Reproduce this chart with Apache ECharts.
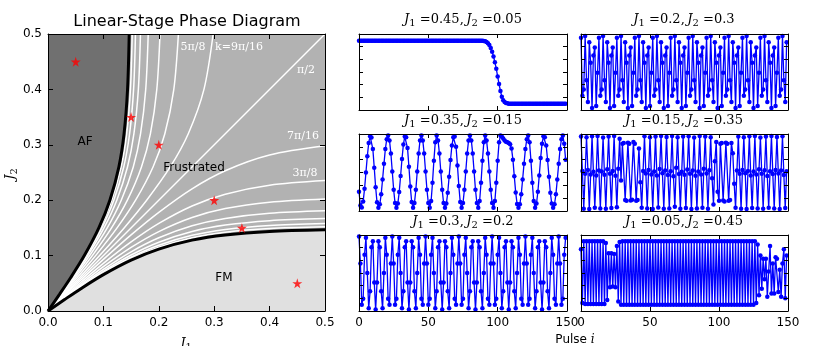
<!DOCTYPE html>
<html>
<head>
<meta charset="utf-8">
<script src="https://cdn.jsdelivr.net/npm/echarts@6/dist/echarts.min.js"></script>
<style>
html, body { margin: 0; padding: 0; background: #fff; }
#chart { width: 830px; height: 346px; }
</style>
</head>
<body>
<div id="chart"></div>
<script>
// ---- phase diagram data (J2 at these J1 values) ----
const phaseJ1 = [0, 0.03, 0.06, 0.1, 0.15, 0.2, 0.26, 0.32, 0.4, 0.5]
const fmBoundaryJ2 = [0, 0.0207, 0.0408, 0.0656, 0.0918, 0.1117, 0.1279, 0.1373, 0.1436, 0.1466]
// white k-contours below the diagonal: k = pi/16, pi/8, ..., 7pi/16
const contourPi16 = [0, 0.0212, 0.0418, 0.0672, 0.0943, 0.1151, 0.1321, 0.1420, 0.1488, 0.1520]
const contourPi8 = [0, 0.0217, 0.0428, 0.0690, 0.0971, 0.1188, 0.1367, 0.1473, 0.1545, 0.1579]
const contour3Pi16 = [0, 0.0224, 0.0443, 0.0716, 0.1011, 0.1242, 0.1435, 0.1551, 0.1631, 0.1669]
const contourPi4 = [0, 0.0235, 0.0464, 0.0752, 0.1069, 0.1322, 0.1539, 0.1671, 0.1764, 0.1809]
const contour5Pi16 = [0, 0.0248, 0.0491, 0.0800, 0.1147, 0.1433, 0.1687, 0.1849, 0.1964, 0.2022]
const contour3Pi8 = [0, 0.0264, 0.0524, 0.0860, 0.1247, 0.1581, 0.1896, 0.2109, 0.2271, 0.2354]
const contour7Pi16 = [0, 0.0283, 0.0564, 0.0932, 0.1374, 0.1781, 0.2206, 0.2532, 0.2815, 0.2981]
const diagonalJ = [0, 0.5]

// sampled points (red stars) = the six panels on the right
const panelJ1 = [0.45, 0.2, 0.35, 0.15, 0.3, 0.05]
const panelJ2 = [0.05, 0.3, 0.15, 0.35, 0.2, 0.45]

// ---- pulse series (150 pulses each) ----
const pulseA = [
  0.99, 0.99, 0.99, 0.99, 0.99, 0.99, 0.99, 0.99, 0.99, 0.99,
  0.99, 0.99, 0.99, 0.99, 0.99, 0.99, 0.99, 0.99, 0.99, 0.99,
  0.99, 0.99, 0.99, 0.99, 0.99, 0.99, 0.99, 0.99, 0.99, 0.99,
  0.99, 0.99, 0.99, 0.99, 0.99, 0.99, 0.99, 0.99, 0.99, 0.99,
  0.99, 0.99, 0.99, 0.99, 0.99, 0.99, 0.99, 0.99, 0.99, 0.99,
  0.99, 0.99, 0.99, 0.99, 0.99, 0.99, 0.99, 0.99, 0.99, 0.99,
  0.99, 0.99, 0.99, 0.99, 0.99, 0.99, 0.99, 0.99, 0.99, 0.99,
  0.99, 0.99, 0.99, 0.99, 0.99, 0.99, 0.99, 0.99, 0.99, 0.99,
  0.99, 0.99, 0.99, 0.99, 0.99, 0.99, 0.99, 0.99, 0.99, 0.99,
  0.98, 0.97, 0.95, 0.91, 0.85, 0.76, 0.64, 0.49, 0.31, 0.1,
  -0.14, -0.38, -0.6, -0.78, -0.89, -0.95, -0.98, -0.99, -1.0, -1.0,
  -1.0, -1.0, -1.0, -1.0, -1.0, -1.0, -1.0, -1.0, -1.0, -1.0,
  -1.0, -1.0, -1.0, -1.0, -1.0, -1.0, -1.0, -1.0, -1.0, -1.0,
  -1.0, -1.0, -1.0, -1.0, -1.0, -1.0, -1.0, -1.0, -1.0, -1.0,
  -1.0, -1.0, -1.0, -1.0, -1.0, -1.0, -1.0, -1.0, -1.0, -1.0
]
const pulseB = [
  1.08, -0.75, -0.55, 1.14, -0.26, -0.95, 0.94, 0.29, -1.14, 0.52, 0.77, -1.07, -0.02,
  1.08, -0.75, -0.55, 1.14, -0.26, -0.95, 0.94, 0.29, -1.14, 0.52, 0.77, -1.07, -0.02,
  1.08, -0.75, -0.55, 1.14, -0.26, -0.95, 0.94, 0.29, -1.14, 0.52, 0.77, -1.07, -0.02,
  1.08, -0.75, -0.55, 1.14, -0.26, -0.95, 0.94, 0.29, -1.14, 0.52, 0.77, -1.07, -0.02,
  1.08, -0.75, -0.55, 1.14, -0.26, -0.95, 0.94, 0.29, -1.14, 0.52, 0.77, -1.07, -0.02,
  1.08, -0.75, -0.55, 1.14, -0.26, -0.95, 0.94, 0.29, -1.14, 0.52, 0.77, -1.07, -0.02,
  1.08, -0.75, -0.55, 1.14, -0.26, -0.95, 0.94, 0.29, -1.14, 0.52, 0.77, -1.07, -0.02,
  1.08, -0.75, -0.55, 1.14, -0.26, -0.95, 0.94, 0.29, -1.14, 0.52, 0.77, -1.07, -0.02,
  1.08, -0.75, -0.55, 1.14, -0.26, -0.95, 0.94, 0.29, -1.14, 0.52, 0.77, -1.07, -0.02,
  1.08, -0.75, -0.55, 1.14, -0.26, -0.95, 0.94, 0.29, -1.14, 0.52, 0.77, -1.07, -0.02,
  1.08, -0.75, -0.55, 1.14, -0.26, -0.95, 0.94, 0.29, -1.14, 0.52, 0.77, -1.07, -0.02,
  1.08, -0.75, -0.55, 1.14, -0.26, -0.95, 0.94
]
const pulseC = [
  -0.6, -1.03, -1.09, -0.9, -0.51, 0.0, 0.51, 0.92, 1.13, 1.09,
  0.73, 0.15, -0.46, -0.93, -1.1, -0.99, -0.68, -0.22, 0.27, 0.73,
  1.04, 1.15, 1.0, 0.59, 0.03, -0.54, -0.95, -1.1, -0.97, -0.61,
  -0.11, 0.42, 0.87, 1.12, 1.1, 0.76, 0.18, -0.44, -0.92, -1.1,
  -0.95, -0.54, 0.03, 0.59, 1.0, 1.15, 1.0, 0.59, 0.03, -0.54,
  -0.95, -1.1, -0.89, -0.32, 0.37, 0.94, 1.15, 1.0, 0.59, 0.03,
  -0.54, -0.95, -1.1, -0.97, -0.63, -0.13, 0.39, 0.84, 1.1, 1.12,
  0.8, 0.22, -0.42, -0.92, -1.1, -0.95, -0.54, 0.03, 0.59, 1.0,
  1.15, 1.0, 0.59, 0.03, -0.54, -0.95, -1.1, -0.89, -0.32, 0.37,
  0.94, 1.15, 1.0, 0.59, 0.03, -0.54, -0.95, -1.1, -0.89, -0.32,
  0.37, 0.94, 1.15, 1.12, 1.06, 1.0, 0.96, 0.94, 0.92, 0.88,
  0.75, 0.4, -0.12, -0.62, -0.98, -1.1, -0.99, -0.68, -0.22, 0.27,
  0.73, 1.04, 1.15, 0.94, 0.37, -0.32, -0.89, -1.1, -0.97, -0.6,
  -0.09, 0.45, 0.9, 1.13, 1.1, 0.84, 0.39, -0.13, -0.63, -0.97,
  -1.1, -0.99, -0.68, -0.22, 0.27, 0.73, 1.04, 1.15, 0.9, 0.4
]
const pulseD = [
  1.12, 0.05, -1.13, -0.04, 1.10, 0.08, -1.14, -0.06, 1.13, 0.02,
  -1.10, -0.09, 1.14, 0.06, -1.12, 0.03, 1.09, -0.07, -1.13, 0.10,
  1.12, -0.04, -1.11, 0.05, 1.14, -0.10, -1.08, 0.12, 1.05, -0.25,
  0.90, 0.92, -0.86, -0.88, 0.93, 0.90, -0.87, -0.85, 0.95, 0.90,
  -0.88, -0.86, 0.75, -0.30, -1.10, 0.05, 1.13, -0.03, -1.12, 0.08,
  1.10, -0.06, -1.14, 0.03, 1.12, -0.09, -1.09, 0.11, 1.14, -0.02,
  -1.13, 0.06, 1.11, -0.08, -1.12, 0.04, 1.14, -0.12, -1.07, 0.15,
  1.10, -0.05, -1.13, 0.02, 1.12, -0.07, -1.11, 0.09, 1.13, -0.04,
  -1.14, 0.06, 1.09, -0.10, -1.12, 0.03, 1.14, -0.06, -1.10, 0.12,
  1.12, -0.03, -1.13, 0.07, 1.10, -0.18, -1.00, 0.35, 0.95, -0.60,
  -0.88, 0.90, 0.92, -0.87, -0.90, 0.93, 0.90, -0.88, -0.86, 0.92,
  0.60, -0.35, -1.10, 0.06, 1.12, -0.04, -1.13, 0.08, 1.10, -0.02,
  -1.14, 0.05, 1.13, -0.09, -1.11, 0.03, 1.14, -0.06, -1.12, 0.10,
  1.09, -0.04, -1.13, 0.07, 1.12, -0.11, -1.10, 0.04, 1.14, -0.05,
  -1.12, 0.08, 1.11, -0.03, -1.14, 0.06, 1.13, -0.08, -1.11, 0.04
]
const pulseE = [
  1.15, 0.30, -1.0, -0.81, 0.58, 1.11, 0, -1.11, -0.58, 0.81, 1.0, -0.30, -1.15, -0.30, 1.0, 0.81, -0.58, -1.11, 0, 1.11, 0.58, -0.81, -1.0, 0.30,
  1.15, 0.30, -1.0, -0.81, 0.58, 1.11, 0, -1.11, -0.58, 0.81, 1.0, -0.30, -1.15, -0.30, 1.0, 0.81, -0.58, -1.11, 0, 1.11, 0.58, -0.81, -1.0, 0.30,
  1.15, 0.30, -1.0, -0.81, 0.58, 1.11, 0, -1.11, -0.58, 0.81, 1.0, -0.30, -1.15, -0.30, 1.0, 0.81, -0.58, -1.11, 0, 1.11, 0.58, -0.81, -1.0, 0.30,
  1.15, 0.30, -1.0, -0.81, 0.58, 1.11, 0, -1.11, -0.58, 0.81, 1.0, -0.30, -1.15, -0.30, 1.0, 0.81, -0.58, -1.11, 0, 1.11, 0.58, -0.81, -1.0, 0.30,
  1.15, 0.30, -1.0, -0.81, 0.58, 1.11, 0, -1.11, -0.58, 0.81, 1.0, -0.30, -1.15, -0.30, 1.0, 0.81, -0.58, -1.11, 0, 1.11, 0.58, -0.81, -1.0, 0.30,
  1.15, 0.30, -1.0, -0.81, 0.58, 1.11, 0, -1.11, -0.58, 0.81, 1.0, -0.30, -1.15, -0.30, 1.0, 0.81, -0.58, -1.11, 0, 1.11, 0.58, -0.81, -1.0, 0.30,
  1.15, 0.30, -1.0, -0.81, 0.58, 1.11
]
const pulseF = [
  0.75, -0.95, 1.0, -0.98, 1.0, -0.98, 1.0, -0.98, 1.0, -0.98,
  1.0, -0.98, 1.0, -0.98, 1.0, -0.98, 1.0, -0.98, 0.95, -0.85,
  0.62, -0.45, 0.62, -0.43, 0.6, -0.45, 0.85, -0.9, 0.98, -1.0,
  1.0, -1.0, 1.0, -1.0, 1.0, -1.0, 1.0, -1.0, 1.0, -1.0,
  1.0, -1.0, 1.0, -1.0, 1.0, -1.0, 1.0, -1.0, 1.0, -1.0,
  1.0, -1.0, 1.0, -1.0, 1.0, -1.0, 1.0, -1.0, 1.0, -1.0,
  1.0, -1.0, 1.0, -1.0, 1.0, -1.0, 1.0, -1.0, 1.0, -1.0,
  1.0, -1.0, 1.0, -1.0, 1.0, -1.0, 1.0, -1.0, 1.0, -1.0,
  1.0, -1.0, 1.0, -1.0, 1.0, -1.0, 1.0, -1.0, 1.0, -1.0,
  1.0, -1.0, 1.0, -1.0, 1.0, -1.0, 1.0, -1.0, 1.0, -1.0,
  1.0, -1.0, 1.0, -1.0, 1.0, -1.0, 1.0, -1.0, 1.0, -1.0,
  1.0, -1.0, 1.0, -1.0, 1.0, -1.0, 1.0, -1.0, 1.0, -1.0,
  1.0, -1.0, 1.0, -1.0, 1.0, -1.0, 1.0, -0.95, 0.9, -0.7,
  0.55, -0.5, 0.45, -0.2, 0.45, -0.75, 0.05, 0.85, -0.65, 0.3,
  -0.65, 0.5, 0.45, -0.6, 0.1, -0.75, 0.3, 0.75, -0.8, 0.55
]
const pulses = [pulseA, pulseB, pulseC, pulseD, pulseE, pulseF]

const xTicksPhase = [0, 0.5, 0.1]
const xTicksPulse = [0, 150, 50]
const yTicksPulse = [-1.2, 1.2, 0.4]

const starPath = 'path://M50,0 L61,35 L98,35 L68,57 L79,91 L50,70 L21,91 L32,57 L2,35 L39,35 Z'

const grids = [
  { left: 48, top: 34, width: 277, height: 277 },
  { left: 359, top: 34, width: 208, height: 76 },
  { left: 581, top: 34, width: 207, height: 76 },
  { left: 359, top: 134, width: 208, height: 77 },
  { left: 581, top: 134, width: 207, height: 77 },
  { left: 359, top: 235, width: 208, height: 76 },
  { left: 581, top: 235, width: 207, height: 76 }
].map(g => Object.assign({ containLabel: false, outerBoundsMode: 'none', show: false }, g))
grids[0].show = true
grids[0].backgroundColor = '#b2b2b2'
grids[0].borderWidth = 0

function axis(gridIndex, position, range, labels, phase) {
  return {
    type: 'value',
    gridIndex: gridIndex,
    position: position,
    min: range[0],
    max: range[1],
    interval: range[2],
    axisLine: { show: true, onZero: false, lineStyle: { color: '#000', width: 1 } },
    axisTick: { show: true, inside: true, length: phase ? 5 : 4, lineStyle: { color: '#000', width: 1 } },
    axisLabel: {
      show: labels,
      fontFamily: 'DejaVu Sans',
      fontSize: 12,
      color: '#000',
      margin: 6,
      formatter: v => phase ? v.toFixed(1) : String(v)
    },
    splitLine: { show: false },
    z: 10
  }
}

const xAxes = []
const yAxes = []
grids.forEach((g, i) => {
  const phase = i === 0
  xAxes.push(axis(i, 'bottom', phase ? xTicksPhase : xTicksPulse, phase || i >= 5, phase))
  xAxes.push(axis(i, 'top', phase ? xTicksPhase : xTicksPulse, false, phase))
  yAxes.push(axis(i, 'left', phase ? xTicksPhase : yTicksPulse, phase, phase))
  yAxes.push(axis(i, 'right', phase ? xTicksPhase : yTicksPulse, false, phase))
})

const lower = (vals) => phaseJ1.map((x, i) => [x, vals[i]])
const upper = (vals) => phaseJ1.map((x, i) => [vals[i], x])

const contours = [contourPi16, contourPi8, contour3Pi16, contourPi4, contour5Pi16, contour3Pi8, contour7Pi16]
const series = []

contours.forEach(c => {
  series.push({
    type: 'line', xAxisIndex: 0, yAxisIndex: 0, data: lower(c),
    smooth: 0.3, symbol: 'none', silent: true,
    lineStyle: { color: '#fff', width: 1.5 }, z: 2
  })
  series.push({
    type: 'line', xAxisIndex: 0, yAxisIndex: 0, data: upper(c),
    smooth: 0.3, symbol: 'none', silent: true,
    lineStyle: { color: '#fff', width: 1.5 }, z: 2
  })
})
series.push({
  type: 'line', xAxisIndex: 0, yAxisIndex: 0, data: diagonalJ.map(v => [v, v]),
  symbol: 'none', silent: true, lineStyle: { color: '#fff', width: 1.5 }, z: 2
})
// FM region (below its boundary) and AF region (left of its boundary)
series.push({
  type: 'line', xAxisIndex: 0, yAxisIndex: 0, data: lower(fmBoundaryJ2),
  smooth: 0.3, symbol: 'none', silent: true,
  lineStyle: { color: '#000', width: 3 },
  areaStyle: { color: '#e0e0e0', opacity: 1, origin: 'start' }, z: 3
})
series.push({
  type: 'line', xAxisIndex: 0, yAxisIndex: 0, data: upper(fmBoundaryJ2),
  smooth: 0.3, symbol: 'none', silent: true,
  lineStyle: { color: '#000', width: 3 },
  areaStyle: { color: '#707070', opacity: 1, origin: 'end' }, z: 3
})
series.push({
  type: 'scatter', xAxisIndex: 0, yAxisIndex: 0,
  data: panelJ1.map((x, i) => [x, panelJ2[i]]),
  symbol: starPath, symbolSize: 10,
  itemStyle: { color: '#ff0000' }, z: 5
})

pulses.forEach((p, k) => {
  series.push({
    type: 'line',
    xAxisIndex: 2 * (k + 1),
    yAxisIndex: 2 * (k + 1),
    data: p.map((v, i) => [i, v]),
    symbol: 'circle',
    symbolSize: 4.5,
    showAllSymbol: true,
    itemStyle: { color: '#0000ff' },
    lineStyle: { color: '#0000ff', width: 1.3 },
    z: 3
  })
})

const serif = 'DejaVu Serif'
const sans = 'DejaVu Sans'
function plainText(x, y, text, size, color, family) {
  return {
    type: 'text', z: 100,
    style: {
      x: x, y: y, text: text, fill: color,
      font: size + 'px "' + family + '"',
      textAlign: 'center', textVerticalAlign: 'middle'
    }
  }
}
// italic J, upright numbers, lowered subscripts
const mathRich = {
  j: { fontFamily: serif, fontStyle: 'italic', fontSize: 13 },
  n: { fontFamily: serif, fontSize: 13 },
  s: { fontFamily: serif, fontSize: 10, padding: [7, 0, 0, 0] }
}
const titleCenters = [[463, 20], [684, 20], [463, 121], [684, 121], [463, 222], [684, 222]]

const graphics = [
  plainText(187, 22, 'Linear-Stage Phase Diagram', 16, '#000', sans),
  plainText(85, 142, 'AF', 12, '#000', sans),
  plainText(194, 168, 'Frustrated', 12, '#000', sans),
  plainText(224, 278, 'FM', 12, '#000', sans),
  plainText(193, 47, '5π/8', 11, '#fff', serif),
  plainText(239, 47, 'k=9π/16', 11, '#fff', serif),
  plainText(306, 70, 'π/2', 11, '#fff', serif),
  plainText(303, 136, '7π/16', 11, '#fff', serif),
  plainText(305, 173, '3π/8', 11, '#fff', serif)
]
graphics.push({
  type: 'text', z: 100,
  style: { x: 186, y: 344, text: '{j|J}{s|1}', rich: mathRich, textAlign: 'center', textVerticalAlign: 'middle', fill: '#000' }
})
graphics.push({
  type: 'text', z: 100, rotation: Math.PI / 2, x: 11, y: 174,
  style: { x: 0, y: 0, text: '{j|J}{s|2}', rich: mathRich, textAlign: 'center', textVerticalAlign: 'middle', fill: '#000' }
})
graphics.push({
  type: 'text', z: 100,
  style: {
    x: 575, y: 340, text: '{p|Pulse }{i|i}', textAlign: 'center', textVerticalAlign: 'middle', fill: '#000',
    rich: { p: { fontFamily: sans, fontSize: 12 }, i: { fontFamily: serif, fontStyle: 'italic', fontSize: 12 } }
  }
})
titleCenters.forEach((c, k) => {
  graphics.push({
    type: 'text', z: 100,
    style: {
      x: c[0], y: c[1], fill: '#000', textAlign: 'center', textVerticalAlign: 'middle',
      text: '{j|J}{s|1}{n| =' + panelJ1[k] + ',\u2009}{j|J}{s|2}{n| =' + panelJ2[k] + '}',
      rich: mathRich
    }
  })
})

const chart = echarts.init(document.getElementById('chart'), null, { renderer: 'canvas' })
chart.setOption({
  animation: false,
  backgroundColor: '#fff',
  grid: grids,
  xAxis: xAxes,
  yAxis: yAxes,
  series: series,
  graphic: graphics
})
</script>
</body>
</html>
